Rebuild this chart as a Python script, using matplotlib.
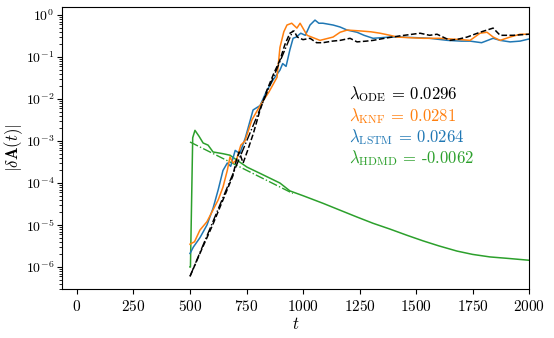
import numpy as np
import matplotlib
matplotlib.use("Agg")
import matplotlib.pyplot as plt

plt.rcParams['font.family'] = 'serif'
plt.rcParams['font.serif'] = ['cmr10']
plt.rcParams['mathtext.fontset'] = 'cm'
plt.rcParams['axes.formatter.use_mathtext'] = True
plt.rcParams['font.size'] = 11

# ODE reference (black dashed)
t_ode = [500, 550, 600, 650, 690, 705, 718, 735, 755, 780, 810, 840, 870, 898, 920, 942, 960, 975,
         1000, 1031, 1060, 1088, 1130, 1164, 1208, 1239, 1280, 1310, 1360, 1429, 1518, 1560, 1593,
         1650, 1690, 1726, 1783, 1841, 1872, 1929, 2000]
a_ode = [6e-7, 2.5e-6, 1e-5, 4.5e-5, 1.5e-4, 3.5e-4, 5.5e-4, 3e-4, 6e-4, 1.5e-3, 5.5e-3, 1.6e-2,
         4e-2, 0.085, 0.2, 0.37, 0.42, 0.3, 0.26, 0.28, 0.22, 0.22, 0.24, 0.25, 0.28, 0.23, 0.24,
         0.25, 0.28, 0.32, 0.37, 0.33, 0.35, 0.25, 0.27, 0.3, 0.39, 0.49, 0.33, 0.33, 0.35]

# KNF (orange)
t_knf = [500, 520, 544, 575, 602, 625, 646, 665, 677, 690, 705, 725, 743, 774, 810, 850, 885, 898,
         915, 929, 950, 973, 987, 1018, 1075, 1133, 1164, 1195, 1252, 1300, 1341, 1385, 1416, 1470,
         1531, 1600, 1650, 1700, 1739, 1783, 1814, 1841, 1872, 1916, 1960, 2000]
a_knf = [3.5e-6, 4e-6, 7.6e-6, 1.2e-5, 2.3e-5, 4e-5, 8e-5, 2e-4, 4.2e-4, 3e-4, 3.5e-4, 8e-4, 1e-3,
         3.2e-3, 7e-3, 1.5e-2, 0.033, 0.17, 0.4, 0.58, 0.64, 0.49, 0.64, 0.33, 0.25, 0.3, 0.39, 0.44,
         0.42, 0.4, 0.37, 0.33, 0.3, 0.29, 0.28, 0.28, 0.27, 0.26, 0.25, 0.37, 0.39, 0.3, 0.25, 0.3,
         0.35, 0.35]

# LSTM (blue)
t_lstm = [500, 515, 544, 575, 602, 625, 646, 665, 680, 700, 720, 745, 779, 810, 840, 870, 898, 910,
          925, 942, 956, 970, 990, 1010, 1031, 1053, 1070, 1088, 1133, 1164, 1195, 1239, 1270, 1310,
          1385, 1429, 1500, 1560, 1640, 1700, 1739, 1790, 1841, 1872, 1916, 1960, 2000]
a_lstm = [2.1e-6, 3e-6, 5e-6, 1e-5, 2.5e-5, 7e-5, 2e-4, 3e-4, 2.5e-4, 6e-4, 5e-4, 1.2e-3, 5.5e-3,
          7e-3, 0.016, 0.03, 0.049, 0.07, 0.06, 0.15, 0.28, 0.3, 0.37, 0.33, 0.58, 0.76, 0.64, 0.64,
          0.58, 0.52, 0.44, 0.39, 0.33, 0.28, 0.3, 0.3, 0.29, 0.28, 0.25, 0.24, 0.24, 0.22, 0.28, 0.25,
          0.23, 0.24, 0.27]

# HDMD (green)
t_hdmd = [500, 502, 512, 522, 540, 558, 580, 602, 646, 677, 708, 752, 810, 898, 942, 1000, 1088,
          1160, 1239, 1310, 1385, 1460, 1531, 1600, 1681, 1750, 1827, 1910, 2000]
a_hdmd = [1e-6, 1e-6, 1.2e-3, 1.8e-3, 1.3e-3, 9e-4, 8e-4, 5.5e-4, 5e-4, 4.6e-4, 3.5e-4, 2.4e-4,
          1.7e-4, 1e-4, 6.5e-5, 5e-5, 3.3e-5, 2.3e-5, 1.55e-5, 1.1e-5, 8e-6, 5.7e-6, 4.2e-6, 3.2e-6,
          2.4e-6, 2e-6, 1.74e-6, 1.6e-6, 1.45e-6]

# exponential fits
lam_ode, lam_knf, lam_lstm, lam_hdmd = 0.0296, 0.0281, 0.0264, -0.0062
t_fit = np.linspace(500, 955, 100)
fit_ode = 6e-7 * np.exp(lam_ode * (t_fit - 500))
fit_hdmd = 9.5e-4 * np.exp(lam_hdmd * (t_fit - 500))

fig = plt.figure(figsize=(5.54, 3.38), dpi=100)
ax = fig.add_axes([0.112, 0.145, 0.843, 0.834])

ax.plot(t_hdmd, a_hdmd, color='tab:green', lw=1.1)
ax.plot(t_fit, fit_hdmd, color='tab:green', lw=1.0, ls='-.')
ax.plot(t_lstm, a_lstm, color='tab:blue', lw=1.1)
ax.plot(t_knf, a_knf, color='tab:orange', lw=1.1)
ax.plot(t_ode, a_ode, color='k', lw=1.1, ls='--')
ax.plot(t_fit, fit_ode, color='k', lw=1.0, ls='-.')

ax.set_yscale('log')
ax.set_xlim(-66, 2000)
ax.set_ylim(3e-7, 1.55)
ax.set_xticks(np.arange(0, 2001, 250))
ax.tick_params(axis='y', labelsize=10, pad=2)
ax.set_xlabel(r'$t$', fontsize=12, labelpad=2)
ax.set_ylabel(r'$|\delta \mathbf{A}(t)|$', fontsize=12)
ax.yaxis.set_label_coords(-0.08, 0.5)

labels = [(r'$\lambda_{\mathrm{ODE}}$ = 0.0296', 'k'),
          (r'$\lambda_{\mathrm{KNF}}$ = 0.0281', 'tab:orange'),
          (r'$\lambda_{\mathrm{LSTM}}$ = 0.0264', 'tab:blue'),
          (r'$\lambda_{\mathrm{HDMD}}$ = -0.0062', 'tab:green')]
for i, (txt, c) in enumerate(labels):
    ax.text(0.615, 0.69 - i * 0.075, txt, color=c, transform=ax.transAxes,
            va='center', ha='left', fontsize=12)

fig.savefig('out.png', dpi=100)
